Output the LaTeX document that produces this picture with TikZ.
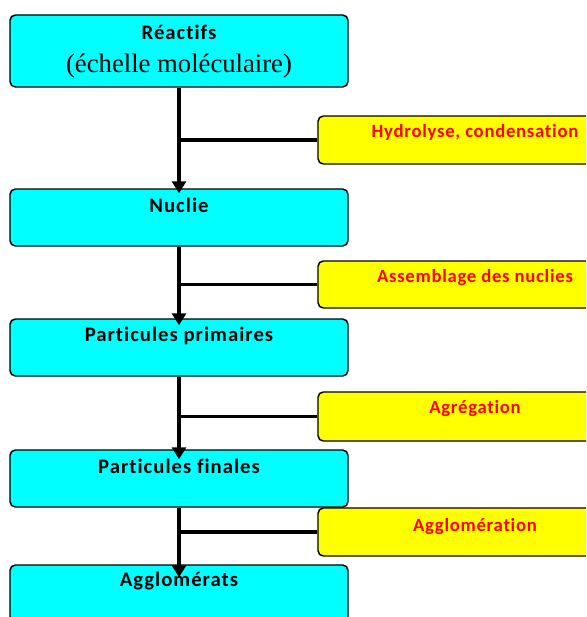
\documentclass[tikz,border=0pt]{standalone}
\usepackage{fontspec}
\setmainfont{Carlito}[Ligatures=CommonOff]
\newfontfamily\tnr{Liberation Serif}
\usetikzlibrary{arrows.meta,calc}
\definecolor{cyanbox}{RGB}{0,255,255}
\definecolor{yelbox}{RGB}{255,255,0}
\definecolor{redtxt}{RGB}{255,0,0}
\tikzset{
  stagebox/.style={draw=black,line width=1.1pt,rounded corners=4pt,fill=cyanbox,minimum width=338*0.75pt,inner sep=0pt},
  procbox/.style={draw=black,line width=1.1pt,rounded corners=4pt,fill=yelbox,minimum width=314*0.75pt,inner sep=0pt},
  stagetxt/.style={font=\bfseries\fontsize{15.5}{17}\selectfont\addfontfeature{LetterSpace=5},text=black,inner sep=0pt},
  proctxt/.style={font=\bfseries\fontsize{14}{16}\selectfont\addfontfeature{LetterSpace=4},text=redtxt,inner sep=0pt},
  flow/.style={line width=3pt,-{Triangle[width=10.5pt,length=9pt]}},
  branch/.style={line width=2.4pt}
}
\begin{document}
\begin{tikzpicture}[x=0.75pt,y=-0.75pt]
\path[use as bounding box] (0,0) rectangle (586,617);
\clip (0,0) rectangle (586,617);
% stage boxes
\node[stagebox,minimum height=72*0.75pt] (b1) at (179,51) {};
\node[stagebox,minimum height=57*0.75pt] (b2) at (179,217.5) {};
\node[stagebox,minimum height=57*0.75pt] (b3) at (179,347.5) {};
\node[stagebox,minimum height=57*0.75pt] (b4) at (179,478.5) {};
\node[stagebox,minimum height=57*0.75pt] (b5) at (179,593.5) {};
% process boxes
\node[procbox,minimum height=48*0.75pt] (y1) at (475,140) {};
\node[procbox,minimum height=47*0.75pt] (y2) at (475,284.5) {};
\node[procbox,minimum height=49*0.75pt] (y3) at (475,416.5) {};
\node[procbox,minimum height=48*0.75pt] (y4) at (475,532) {};
% stage labels
\node[stagetxt] (t1) at ($(b1.north)+(0,18)$) {Réactifs};
\node[inner sep=0pt,font=\tnr\fontsize{20}{22}\selectfont] (t1b) at ($(b1.north)+(0,52)$) {(échelle moléculaire)};
\node[stagetxt] (t2) at ($(b2.north)+(0,17)$) {Nuclie};
\node[stagetxt] (t3) at ($(b3.north)+(0,18)$) {Particules primaires};
\node[stagetxt] (t4) at ($(b4.north)+(0,17)$) {Particules finales};
\node[stagetxt] (t5) at ($(b5.north)+(0,17)$) {Agglomérats};
% process labels
\node[proctxt] (p1) at ($(y1.north)+(0,17)$) {Hydrolyse, condensation};
\node[proctxt] (p2) at ($(y2.north)+(0,17)$) {Assemblage des nuclies};
\node[proctxt] (p3) at ($(y3.north)+(0,17)$) {Agrégation};
\node[proctxt] (p4) at ($(y4.north)+(0,19)$) {Agglomération};
% branches
\draw[branch] (y1.west) -- (y1.west -| b1.south);
\draw[branch] (y2.west) -- (y2.west -| b2.south);
\draw[branch] (y3.west) -- (y3.west -| b3.south);
\draw[branch] (y4.west) -- (y4.west -| b4.south);
% main flow
\draw[flow] (b1.south) -- ($(b2.north)+(0,5)$);
\draw[flow] (b2.south) -- ($(b3.north)+(0,7)$);
\draw[flow] (b3.south) -- ($(b4.north)+(0,10)$);
\draw[flow] (b4.south) -- ($(b5.north)+(0,13)$);
\end{tikzpicture}
\end{document}
